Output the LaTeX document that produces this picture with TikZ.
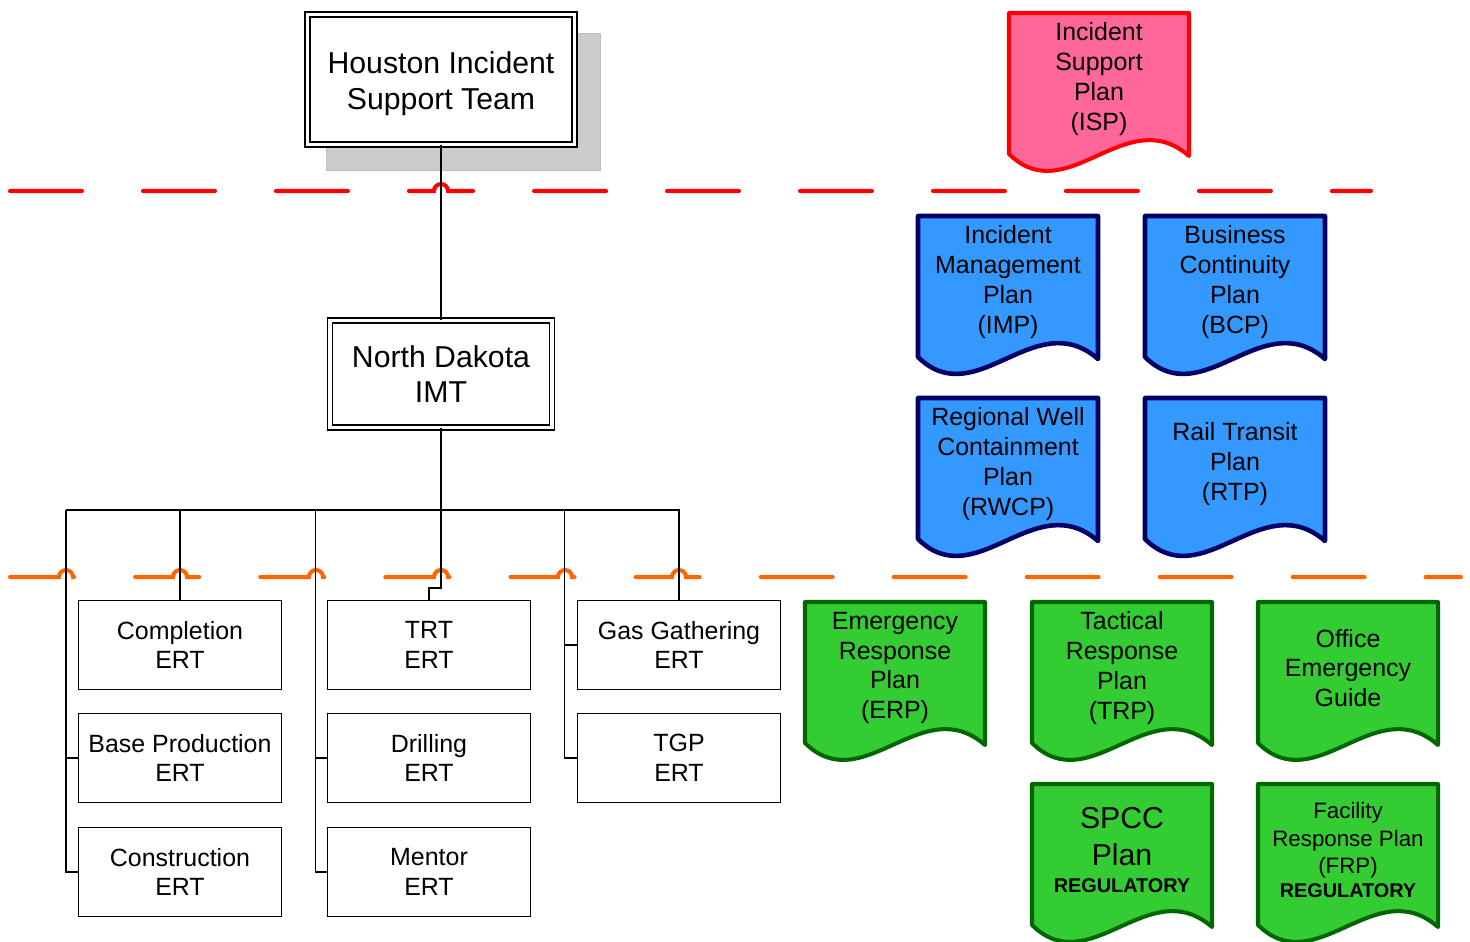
\documentclass[tikz,border=0pt]{standalone}
\usepackage{fontspec}
\setmainfont{Liberation Sans}
\usetikzlibrary{positioning}

\definecolor{isppink}{HTML}{FF6699}
\definecolor{ispred}{HTML}{FF0000}
\definecolor{plnblue}{HTML}{3399FF}
\definecolor{plnnavy}{HTML}{000066}
\definecolor{ergreen}{HTML}{33CC33}
\definecolor{erdark}{HTML}{006600}
\definecolor{sepred}{HTML}{FF0000}
\definecolor{seporange}{HTML}{FF6600}
\definecolor{shadowgray}{HTML}{CCCCCC}

% one plan sheet: name, top left corner, colour style, text
\newcommand{\plandoc}[4]{%
  \begin{scope}[shift={(#2)}]
    \draw[#3] (0,0) -- (180,0) -- (180,143)
      .. controls (117,88) and (58,198) .. (0,141) -- cycle;
    \node[plantext] (#1) at (90,66) {#4};
  \end{scope}}

\begin{document}
\begin{tikzpicture}[x=0.02cm,y=-0.02cm,line width=0.85pt,
    teambox/.style={draw,double,double distance=2pt,fill=white,align=center,
      font=\fontsize{17.2}{20.4}\selectfont},
    ertbox/.style={draw,fill=white,align=center,minimum width=4.06cm,
      minimum height=1.78cm,font=\fontsize{14.2}{17}\selectfont},
    plantext/.style={align=center,font=\fontsize{14.2}{17}\selectfont},
    ispdoc/.style={fill=isppink,draw=ispred,line width=2.3pt,line join=round},
    bluedoc/.style={fill=plnblue,draw=plnnavy,line width=2.6pt,line join=round},
    greendoc/.style={fill=ergreen,draw=erdark,line width=2.3pt,line join=round},
    sepline/.style={line width=2.3pt,line cap=round,
      dash pattern=on 1.44cm off 1.22cm}]
  \useasboundingbox (0,0) rectangle (1470,941);

  % separators, with hops where the tree crosses them
  \draw[sepline,sepred] (10,191) -- (434,191)
    arc[start angle=180,end angle=0,radius=0.14cm] -- (1371,191);
  \draw[sepline,seporange] (10,577)
    foreach \hx in {66,180,316,441,565,679} {
      -- ({\hx-7},577) arc[start angle=180,end angle=0,radius=0.14cm]}
    -- (1461,577);

  % teams
  \fill[shadowgray,draw=black!25,line width=0.5pt] (326,33) rectangle (600,170);
  \node[teambox,minimum width=5.34cm,minimum height=2.6cm] (houston) at (441,79.5)
    {\rule{0pt}{17pt}Houston Incident\\Support Team};
  \node[teambox,minimum width=4.44cm,minimum height=2.14cm] (ndimt) at (441,374)
    {North Dakota\\IMT};

  \node[ertbox] (completion)   at (180,645) {Completion\\ERT};
  \node[ertbox] (baseprod)     at (180,758) {Base Production\\ERT};
  \node[ertbox] (construction) at (180,872) {Construction\\ERT};
  \node[ertbox] (trt)          at (429,645) {TRT\\ERT};
  \node[ertbox] (drilling)     at (429,758) {Drilling\\ERT};
  \node[ertbox] (mentor)       at (429,872) {Mentor\\ERT};
  \node[ertbox] (gasg)         at (679,645) {Gas Gathering\\ERT};
  \node[ertbox] (tgp)          at (679,758) {TGP\\ERT};

  % tree
  \draw (houston) -- (ndimt);
  \coordinate (bus) at (441,510);
  \draw (ndimt.south) -- (bus);
  \draw ([xshift=-0.24cm]completion.west |- bus) -- (bus -| gasg.north) -- (gasg.north);
  \draw (completion.north) -- (completion.north |- bus);
  \draw ([xshift=-0.24cm]completion.west |- bus) |- (construction.west);
  \draw ([xshift=-0.24cm]baseprod.west) -- (baseprod.west);
  \draw ([xshift=-0.23cm]trt.west |- bus) |- (mentor.west);
  \draw ([xshift=-0.23cm]drilling.west) -- (drilling.west);
  \draw (bus) -- ++(0,78) -| (trt.north);
  \draw ([xshift=-0.25cm]gasg.west |- bus) |- (tgp.west);
  \draw ([xshift=-0.25cm]gasg.west) -- (gasg.west);

  % plans
  \plandoc{isp}{1009,13}{ispdoc}{Incident\\Support\\Plan\\(ISP)}
  \plandoc{imp}{918,216}{bluedoc}{Incident\\Management\\Plan\\(IMP)}
  \plandoc{bcp}{1145,216}{bluedoc}{Business\\Continuity\\Plan\\(BCP)}
  \plandoc{rwcp}{918,398}{bluedoc}{Regional Well\\Containment\\Plan\\(RWCP)}
  \plandoc{rtp}{1145,398}{bluedoc}{Rail Transit\\Plan\\(RTP)}
  \plandoc{erp}{805,602}{greendoc}{Emergency\\Response\\Plan\\(ERP)}
  \plandoc{trp}{1032,602}{greendoc}{Tactical\\Response\\Plan\\(TRP)}
  \plandoc{oeg}{1258,602}{greendoc}{Office\\Emergency\\Guide}
  \plandoc{spcc}{1032,784}{greendoc}{\fontsize{17.2}{21}\selectfont SPCC\\[4pt]
    \fontsize{17.2}{21}\selectfont Plan\\[-2pt]
    \fontsize{11.3}{13}\selectfont\bfseries REGULATORY}
  \plandoc{frp}{1258,784}{greendoc}{\fontsize{12.7}{15.6}\selectfont Facility\\[-1.4pt]
    \fontsize{12.7}{15.6}\selectfont Response Plan\\[-1.4pt]
    \fontsize{12.7}{15.6}\selectfont (FRP)\\[-3.7pt]
    \fontsize{11.3}{13}\selectfont\bfseries REGULATORY}
\end{tikzpicture}
\end{document}
